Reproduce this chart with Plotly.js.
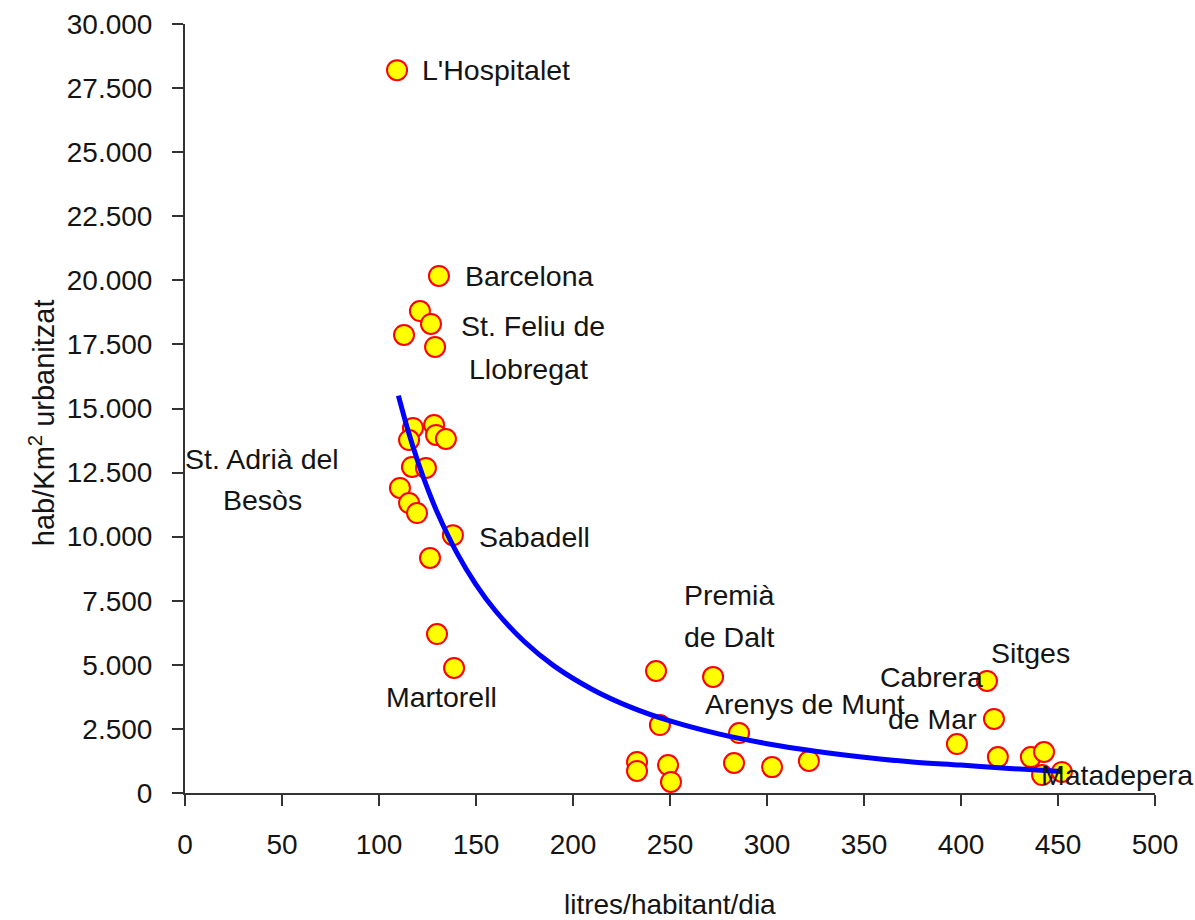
<!DOCTYPE html>
<html>
<head>
<meta charset="utf-8">
<script src="https://cdn.plot.ly/plotly-3.0.1.min.js"></script>
<style>
  html, body { margin: 0; padding: 0; background: #ffffff; }
  #chart { width: 1195px; height: 920px; }
</style>
</head>
<body>
<div id="chart"></div>
<script>
// Consumption (litres/habitant/dia) per municipality
const consum = [109.3, 130.9, 121.1, 126.8, 112.9, 128.9, 117.5, 128.4, 115.5, 129.4,
                134.5, 117.0, 124.2, 110.8, 115.5, 119.6, 138.1, 126.3, 129.9, 138.7,
                242.8, 272.2, 244.8, 285.6, 233.0, 233.0, 249.0, 250.5, 283.0, 302.6,
                321.6, 413.4, 417.0, 397.9, 419.0, 436.0, 442.8, 441.8, 452.0];
// Density (hab/Km2 urbanitzat)
const densitat = [28200, 20170, 18800, 18300, 17870, 17400, 14240, 14360, 13770, 13970,
                  13810, 12720, 12680, 11900, 11310, 10920, 10060, 9170, 6200, 4880,
                  4760, 4530, 2650, 2340, 1210, 860, 1090, 430, 1170, 1010,
                  1250, 4370, 2890, 1910, 1400, 1400, 1600, 700, 820];

// Trend curve
const tendX = [110, 115, 120, 125, 130, 140, 150, 160, 175, 190, 210, 230, 250, 275, 300, 325, 350, 375, 400, 425, 452];
const tendY = [15500, 14130, 12935, 11880, 10950, 9385, 8130, 7110, 5900, 4970, 4040, 3340, 2810, 2305, 1924, 1629, 1396, 1210, 1090, 960, 840];

// Municipality labels (one entry per text line)
const etiquetes = ["L'Hospitalet", "Barcelona", "St. Feliu de", "Llobregat", "St. Adrià del", "Besòs",
                   "Sabadell", "Martorell", "Premià", "de Dalt", "Arenys de Munt",
                   "Cabrera", "de Mar", "Sitges", "Matadepera"];
const etiquetaX = [121.1, 143.3, 141.2, 177.3, 39.7, 39.7, 150.5, 132.2, 256.2, 256.2, 267.0, 385.0, 385.5, 414.4, 440.2];
const etiquetaY = [28200, 20170, 18220, 16540, 13030, 11430, 9990, 3745, 7725, 6085, 3470, 4525, 2885, 5460, 700];
const etiquetaAnchor = ["left", "left", "left", "center", "center", "center", "left", "center", "left", "left", "left", "center", "center", "left", "left"];

const FONT = "'Liberation Sans', Arial, sans-serif";
const TXT = "#141414";

const traces = [
  {
    type: "scatter", mode: "markers",
    x: consum, y: densitat,
    marker: { size: 20, color: "#FFFF00", line: { color: "#FF0000", width: 2 } },
    cliponaxis: false,
    hoverinfo: "x+y", showlegend: false
  },
  {
    type: "scatter", mode: "lines",
    x: tendX, y: tendY,
    line: { color: "#0000FF", width: 5, shape: "spline" },
    hoverinfo: "skip", showlegend: false
  }
];

const annotations = etiquetes.map((t, i) => ({
  text: t, x: etiquetaX[i], y: etiquetaY[i], xref: "x", yref: "y",
  xanchor: etiquetaAnchor[i], yanchor: "middle",
  showarrow: false, font: { family: FONT, size: 28.5, color: TXT }
}));

annotations.push({
  text: "hab/Km<sup>2</sup> urbanitzat", textangle: -90,
  xref: "paper", yref: "paper", x: -0.1474, y: 0.481,
  xanchor: "center", yanchor: "middle", showarrow: false,
  font: { family: FONT, size: 29, color: TXT }
});
annotations.push({
  text: "litres/habitant/dia",
  xref: "paper", yref: "paper", x: 0.5, y: -0.1456,
  xanchor: "center", yanchor: "middle", showarrow: false,
  font: { family: FONT, size: 28, color: TXT }
});

const layout = {
  width: 1195, height: 920,
  paper_bgcolor: "#ffffff", plot_bgcolor: "#ffffff",
  margin: { l: 185, r: 40, t: 24, b: 127 },
  separators: ",.",
  font: { family: FONT, color: TXT },
  showlegend: false,
  xaxis: {
    range: [0, 500], dtick: 50, tick0: 0,
    showgrid: false, zeroline: false,
    showline: true, linecolor: "#333333", linewidth: 2,
    ticks: "outside", ticklen: 11, tickwidth: 2, tickcolor: "#333333",
    ticklabelstandoff: 14,
    tickfont: { family: FONT, size: 28, color: TXT }
  },
  yaxis: {
    range: [0, 30000], dtick: 2500, tick0: 0,
    tickformat: ",d",
    showgrid: false, zeroline: false,
    showline: true, linecolor: "#333333", linewidth: 2,
    ticks: "outside", ticklen: 11, tickwidth: 2, tickcolor: "#333333",
    ticklabelstandoff: 14,
    tickfont: { family: FONT, size: 28, color: TXT }
  },
  annotations: annotations
};

Plotly.newPlot("chart", traces, layout, { displayModeBar: false, staticPlot: true });
</script>
</body>
</html>
